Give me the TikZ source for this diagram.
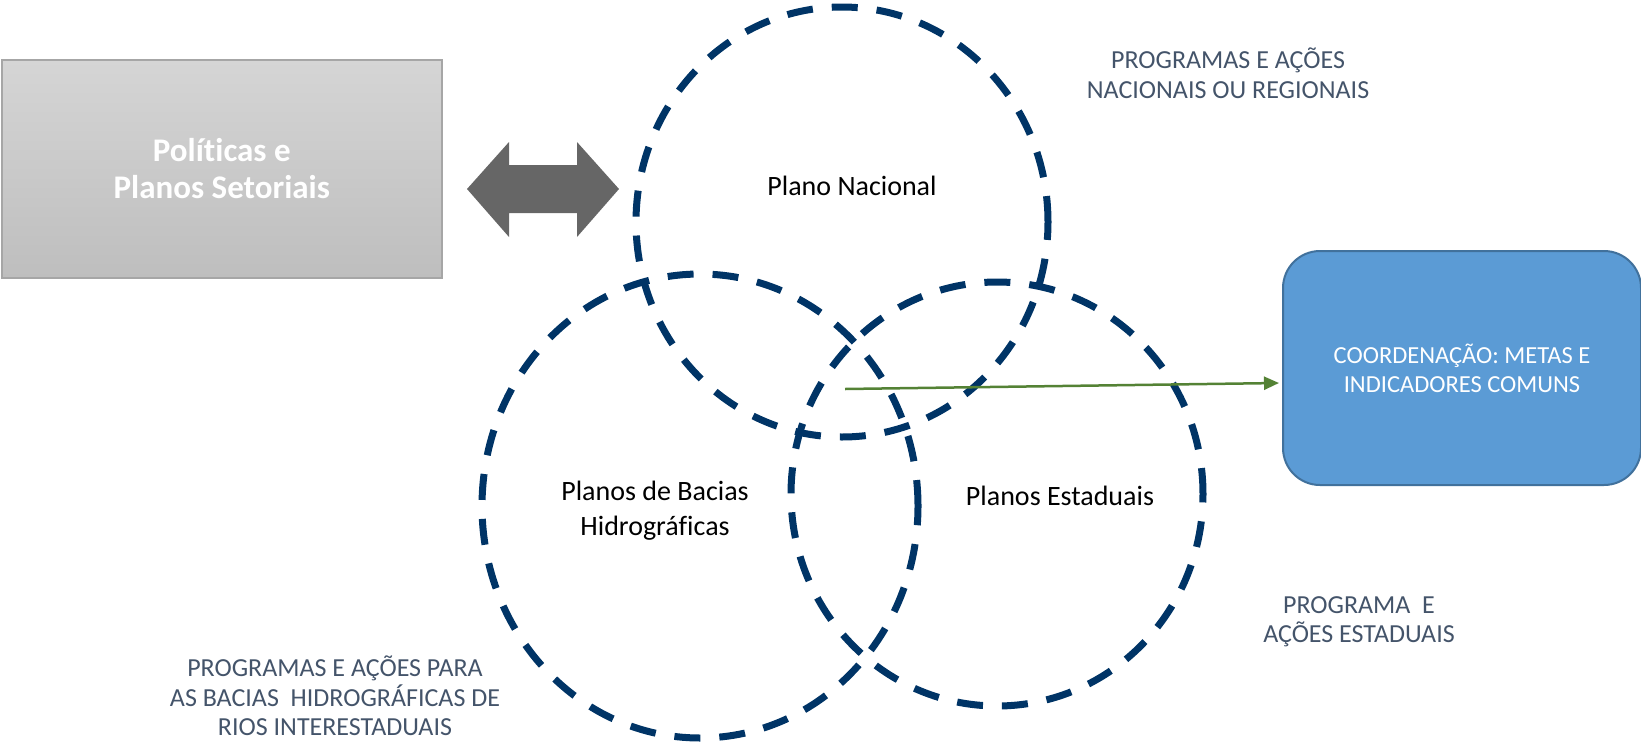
\documentclass[tikz,border=0pt]{standalone}
\usepackage{fontspec}
\setmainfont{Carlito}[Ligatures=NoCommon]
\usetikzlibrary{shapes.geometric,arrows.meta}
\definecolor{ringblue}{RGB}{0,52,102}
\definecolor{slate}{RGB}{68,84,106}
\definecolor{boxblue}{RGB}{91,155,213}
\definecolor{boxedge}{RGB}{65,113,156}
\definecolor{arrowgray}{RGB}{102,102,102}
\definecolor{linkgreen}{RGB}{84,130,53}
\definecolor{graytop}{RGB}{213,213,213}
\definecolor{graybot}{RGB}{190,190,190}
\definecolor{grayedge}{RGB}{166,166,166}
\begin{document}
\begin{tikzpicture}[x=1pt,y=-1pt,
  ring/.style={ellipse, draw=ringblue, line width=7pt, dash pattern=on 26pt off 19pt, inner sep=0pt},
  note/.style={text=slate, align=center, font=\fontsize{26}{29.5}\selectfont, inner sep=0pt},
  circlabel/.style={text=black, align=center, font=\fontsize{28}{35}\selectfont, inner sep=0pt}]
\useasboundingbox (0,0) rectangle (1641,745);

% rings
\node[ring, minimum width=412pt, minimum height=430pt] (nac) at (842,222) {};
\node[ring, minimum width=436pt, minimum height=464pt] (bac) at (700,506) {};
\node[ring, minimum width=412pt, minimum height=424pt] (est) at (997,494) {};

% ring labels
\node[circlabel, anchor=base] (nact) at (852,195) {Plano Nacional};
\node[circlabel] (bact) at (655,510.5) {Planos de Bacias\\Hidrográficas};
\node[circlabel, anchor=base] (estt) at (1060,505) {Planos Estaduais};

% notes
\node[note] (pn) at (1228,73) {PROGRAMAS E AÇÕES\\NACIONAIS OU REGIONAIS};
\node[note] (pb) at (335,696) {PROGRAMAS E AÇÕES PARA\\AS BACIAS\ \ HIDROGRÁFICAS DE\\RIOS INTERESTADUAIS};
\node[note] (pe) at (1359,621.5) {PROGRAMA\ \ E\\AÇÕES ESTADUAIS};

% gray box
\node[draw=grayedge, line width=1.5pt, top color=graytop, bottom color=graybot,
      minimum width=440pt, minimum height=218pt, inner sep=0pt, anchor=north west,
      text=white, align=center, font=\fontsize{33}{37}\selectfont\bfseries] (pol) at (1,59)
      {Políticas e\\Planos Setoriais};

% double arrow
\fill[arrowgray] (467,189) -- (509,142) -- (509,165) -- (577,165) -- (577,142) -- (619,189)
  -- (577,237) -- (577,213) -- (509,213) -- (509,237) -- cycle;

% blue box
\node[draw=boxedge, line width=2pt, fill=boxblue, rounded corners=37pt,
      minimum width=358pt, minimum height=234pt, inner sep=0pt, anchor=north west,
      text=white, align=center, font=\fontsize{24.5}{29}\selectfont] (meta) at (1282,250)
      {COORDENAÇÃO: METAS E\\INDICADORES COMUNS};

% green link
\coordinate (gs) at (845,389);
\coordinate (ge) at (1279,383);
\draw[linkgreen, line width=2.5pt, -{Triangle[length=15pt,width=13pt]}] (gs) -- (ge);
\end{tikzpicture}
\end{document}
